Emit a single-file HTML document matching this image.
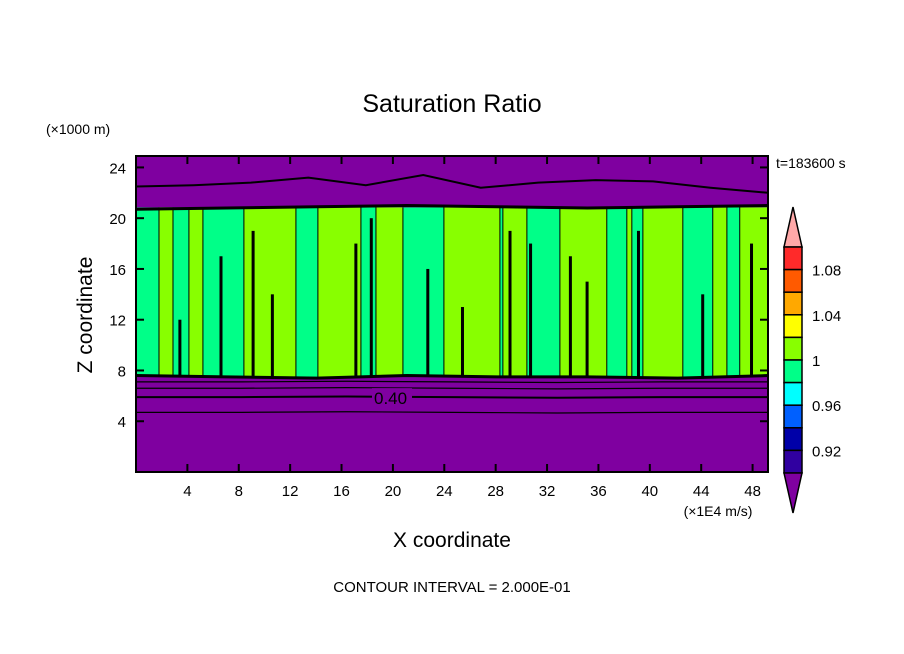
<!DOCTYPE html>
<html><head><meta charset="utf-8"><style>
body{margin:0;background:#fff}
svg{display:block;font-family:"Liberation Sans",sans-serif}
</style></head><body>
<svg id="c" width="904" height="654" viewBox="0 0 904 654">
<text x="452" y="112" text-anchor="middle" font-size="25">Saturation Ratio</text>
<text x="46" y="134" font-size="14">(×1000 m)</text>
<text x="776" y="168" font-size="14">t=183600 s</text>
<text x="718" y="516" font-size="14" text-anchor="middle">(×1E4 m/s)</text>
<text x="452" y="547" text-anchor="middle" font-size="21">X coordinate</text>
<text transform="translate(92,315) rotate(-90)" text-anchor="middle" font-size="21">Z coordinate</text>
<text x="452" y="592" text-anchor="middle" font-size="15">CONTOUR INTERVAL = 2.000E-01</text>
<g id="plot"></g>
<g id="cbar"></g>
</svg>
<script>
const lightBands=[[1.79,2.88],[4.12,5.21],[8.4,12.45],[14.16,17.51],[18.68,20.78],[23.97,28.33],[28.56,30.43],[33.0,36.65],[38.21,38.6],[39.46,42.57],[44.9,46.0],[47.0,49.2]];
const streaks=[3.3,6.5,9.0,10.5,17.0,18.2,22.6,25.3,29.0,30.6,33.7,35.0,39.0,44.0,47.8];
const streakTops=[12,17,19,14,18,20,16,13,19,18,17,15,19,14,18];
const cloudTop=[20.7,20.8,20.9,21.0,20.9,20.8,20.9,21.0];
const cloudBase=[7.6,7.5,7.4,7.6,7.5,7.5,7.4,7.6];
const contourLevels=[4.7,5.9,6.6,7.1];
const upperContour=[22.5,22.6,22.8,23.2,22.6,23.4,22.4,22.8,23.0,22.9,22.4,22.0];
const xTicks=[4,8,12,16,20,24,28,32,36,40,44,48];
const yTicks=[4,8,12,16,20,24];
const cbarColors=["#ff2a2a","#ff5a00","#ffa800","#ffff00","#88ff00","#00ff88","#00ffff","#0060ff","#0000a8","#3000a0"];
const cbarLabels=["1.08","1.04","1","0.96","0.92"];
const NS="http://www.w3.org/2000/svg";
const L=136,R=768,T=156,B=472,xmax=49.2,zmax=24.9;
const sx=v=>L+v/xmax*(R-L), sz=v=>B-v/zmax*(B-T);
const P="#7f00a0";
function mk(t,a,p){const e=document.createElementNS(NS,t);for(const k in a)e.setAttribute(k,a[k]);p.appendChild(e);return e;}
const g=document.getElementById('plot');
let r=mk('rect',{x:L,y:T,width:R-L,height:B-T,fill:P},g);


const zt=20.85, zb=7.5;
r=mk('rect',{x:L,y:sz(zt),width:R-L,height:sz(zb)-sz(zt),fill:"#00ff88"},g);


lightBands.forEach((b,i)=>{
 const x0=sx(b[0]),x1=sx(b[1]),y0=sz(zt),y1=sz(zb);
 const e=mk('rect',{x:x0,y:y0,width:x1-x0,height:y1-y0,fill:"#88ff00"},g);
 
 
 const p=mk('path',{d:`M${x0},${y0}V${y1}M${x1},${y0}V${y1}`,stroke:"#000","stroke-width":1,fill:"none"},g);
 
 
});
streaks.forEach((s,i)=>{
 const e=mk('rect',{x:sx(s),y:sz(streakTops[i]),width:3,height:sz(zb)-sz(streakTops[i]),fill:"#000"},g);
 
 
});
function line(arr,w,name){const n=arr.length;const pts=arr.map((v,i)=>sx(i/(n-1)*xmax)+","+sz(v)).join(" ");
 const e=mk('polyline',{points:pts,fill:"none",stroke:"#000","stroke-width":w},g);
 
 }
line(cloudTop,3,'cloud-top-contour');
line(cloudBase,3,'cloud-base-contour');
line(upperContour,2,'upper-contour');
contourLevels.forEach((z,i)=>line([z,z,z+0.05,z,z-0.05,z,z],i==1?2:1.2,'contour-line'));
let lb=mk('rect',{x:372,y:sz(5.9)-9,width:40,height:18,fill:P},g);


lb=mk('text',{x:374,y:sz(5.9)+7,"font-size":17},g);lb.textContent="0.40";


let f=mk('rect',{x:L,y:T,width:R-L,height:B-T,fill:"none",stroke:"#000","stroke-width":2},g);


xTicks.forEach(v=>{const x=sx(v);
 let t=mk('line',{x1:x,x2:x,y1:B,y2:B-8,stroke:"#000","stroke-width":2},g);
 
 t=mk('line',{x1:x,x2:x,y1:T,y2:T+8,stroke:"#000","stroke-width":2},g);
 
 const s=mk('text',{x:x,y:B+24,"text-anchor":"middle","font-size":15},g);s.textContent=v;
 });
yTicks.forEach(v=>{const y=sz(v);
 let t=mk('line',{x1:L,x2:L+8,y1:y,y2:y,stroke:"#000","stroke-width":2},g);
 
 t=mk('line',{x1:R,x2:R-8,y1:y,y2:y,stroke:"#000","stroke-width":2},g);
 
 const s=mk('text',{x:L-10,y:y+6,"text-anchor":"end","font-size":15},g);s.textContent=v;
 });
const cb=document.getElementById('cbar');
const cx0=784,cx1=802,cy0=247,cy1=473,h=(cy1-cy0)/cbarColors.length;
let tri=mk('polygon',{points:`${cx0},${cy0} ${cx1},${cy0} ${(cx0+cx1)/2},207`,fill:"#ffa8a8",stroke:"#000","stroke-width":1.5},cb);

cbarColors.forEach((c,i)=>{const e=mk('rect',{x:cx0,y:cy0+i*h,width:cx1-cx0,height:h,fill:c,stroke:"#000","stroke-width":1.5},cb);
 });
tri=mk('polygon',{points:`${cx0},${cy1} ${cx1},${cy1} ${(cx0+cx1)/2},513`,fill:P,stroke:"#000","stroke-width":1.5},cb);

cbarLabels.forEach((s,i)=>{const e=mk('text',{x:812,y:cy0+(1+2*i)*h+6,"font-size":15},cb);e.textContent=s;
 });
</script>
</body></html>
